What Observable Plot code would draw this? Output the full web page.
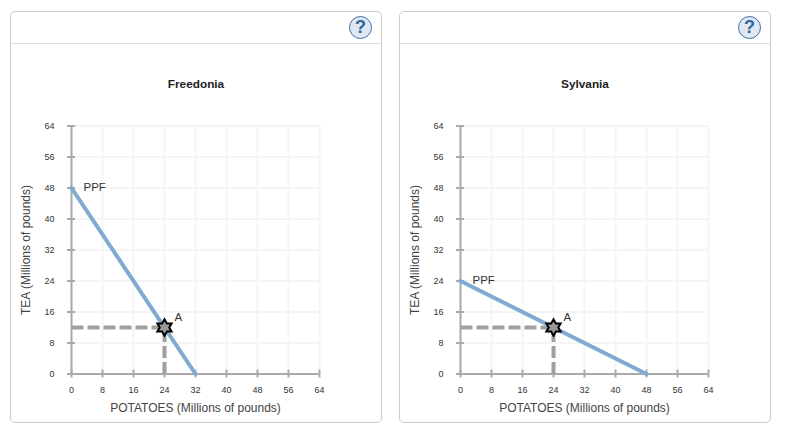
<!DOCTYPE html>
<html><head><meta charset="utf-8">
<script src="https://cdn.jsdelivr.net/npm/d3@7"></script>
<script src="https://cdn.jsdelivr.net/npm/@observablehq/plot@0.6"></script>
<style>
html,body{margin:0;padding:0;background:#fff;width:808px;height:426px;overflow:hidden;font-family:"Liberation Sans",Arial,sans-serif}
.panel{position:absolute;top:11px;width:370px;height:410px;border:1px solid #ccc;border-radius:5px;box-sizing:content-box}
.head{position:absolute;left:0;right:0;top:31px;height:1px;background:#ddd}
.help{position:absolute;top:4px;right:9px;width:21px;height:21px;border:1.5px solid #3a70a8;border-radius:50%;background:#dfe8f1;color:#2f659e;font:bold 18px/21px "Liberation Sans",Arial,sans-serif;text-align:center}
.name{position:absolute;left:0;right:0;top:65px;text-align:center;font:bold 11.8px "Liberation Sans",Arial,sans-serif;color:#222}
.panel svg{position:absolute;left:0;top:32px;overflow:visible}
</style></head><body>
<script>
const ticks = [0, 8, 16, 24, 32, 40, 48, 56, 64];
const names = ["Freedonia", "Sylvania"];
const lefts = [10, 399];
const ppfTea = [48, 24];
const ppfPotatoes = [32, 48];
const pointAPotatoes = [24, 24];
const pointATea = [12, 12];
const pointLabel = "A";
const curveLabel = "PPF";
const xLabel = "POTATOES (Millions of pounds)";
const yLabel = "TEA (Millions of pounds)";

const star6 = {draw(c, size){
  const r = Math.sqrt(size) * 0.62, q = r / Math.sqrt(3);
  for (let i = 0; i < 12; i++){
    const a = i * Math.PI / 6 - Math.PI / 2, k = i % 2 ? q : r;
    const px = k * Math.cos(a), py = k * Math.sin(a);
    if (i) c.lineTo(px, py); else c.moveTo(px, py);
  }
  c.closePath();
}};
const axisColor = "#aaa";
const dashed = {x: "x", y: "y", stroke: "#a0a0a0", strokeWidth: 4, strokeDasharray: "12,4", strokeLinecap: "butt"};

names.forEach((name, i) => {
  const panel = document.createElement("div");
  panel.className = "panel";
  panel.style.left = lefts[i] + "px";
  panel.innerHTML = `<div class="head"></div><div class="help">?</div><div class="name">${name}</div>`;
  const curve = [{x: 0, y: ppfTea[i]}, {x: ppfPotatoes[i], y: 0}];
  const a = {x: pointAPotatoes[i], y: pointATea[i]};
  const svg = Plot.plot({
    width: 370, height: 378,
    marginLeft: 60, marginRight: 62, marginTop: 81.5, marginBottom: 48.5,
    style: {fontFamily: '"Liberation Sans", Arial, sans-serif', background: "transparent", overflow: "visible"},
    x: {domain: [0, 64]},
    y: {domain: [0, 64]},
    marks: [
      Plot.gridX(ticks, {stroke: "#f5f5f5", strokeOpacity: 1, strokeWidth: 2}),
      Plot.gridY(ticks, {stroke: "#f5f5f5", strokeOpacity: 1, strokeWidth: 2}),
      Plot.axisX({ticks, tickSize: 4, tickPadding: 9, fontSize: 9, stroke: axisColor, strokeWidth: 2, strokeOpacity: 1, color: "#333", label: null}),
      Plot.axisX({ticks, tickSize: -4, tickFormat: () => "", label: null, stroke: axisColor, strokeWidth: 2, strokeOpacity: 1}),
      Plot.axisX({ticks, tickSize: 0, tickFormat: () => "", fontSize: 12, color: "#444", stroke: "none",
        label: xLabel, labelAnchor: "center", labelArrow: "none", labelOffset: 38}),
      Plot.axisY({ticks, tickSize: 4, tickPadding: 13, fontSize: 9, stroke: axisColor, strokeWidth: 2, strokeOpacity: 1, color: "#333", label: null}),
      Plot.axisY({ticks, tickSize: -4, tickFormat: () => "", label: null, stroke: axisColor, strokeWidth: 2, strokeOpacity: 1}),
      Plot.axisY({ticks, tickSize: 0, tickFormat: () => "", fontSize: 12, color: "#444", stroke: "none",
        label: yLabel, labelAnchor: "center", labelArrow: "none", labelOffset: 50}),
      Plot.ruleX([0], {stroke: axisColor, strokeWidth: 2}),
      Plot.ruleY([0], {stroke: axisColor, strokeWidth: 2}),
      Plot.line(curve, {x: "x", y: "y", stroke: "#80aad4", strokeWidth: 4}),
      Plot.line([{x: 0, y: a.y}, a], dashed),
      Plot.line([{x: a.x, y: 0}, a], dashed),
      Plot.dot([a], {x: "x", y: "y", symbol: star6, r: 7.5, fill: "#999", stroke: "#000", strokeWidth: 2}),
      Plot.text([a], {x: "x", y: "y", text: () => pointLabel, dx: 10, dy: -10, textAnchor: "start", fontSize: 11.5, fill: "#333"}),
      Plot.text([{x: 0, y: ppfTea[i]}], {x: "x", y: "y", text: () => curveLabel, dx: 12, dy: -1, textAnchor: "start", fontSize: 11.5, fill: "#333"})
    ]
  });
  panel.appendChild(svg);
  document.body.appendChild(panel);
});
</script>
</body></html>
